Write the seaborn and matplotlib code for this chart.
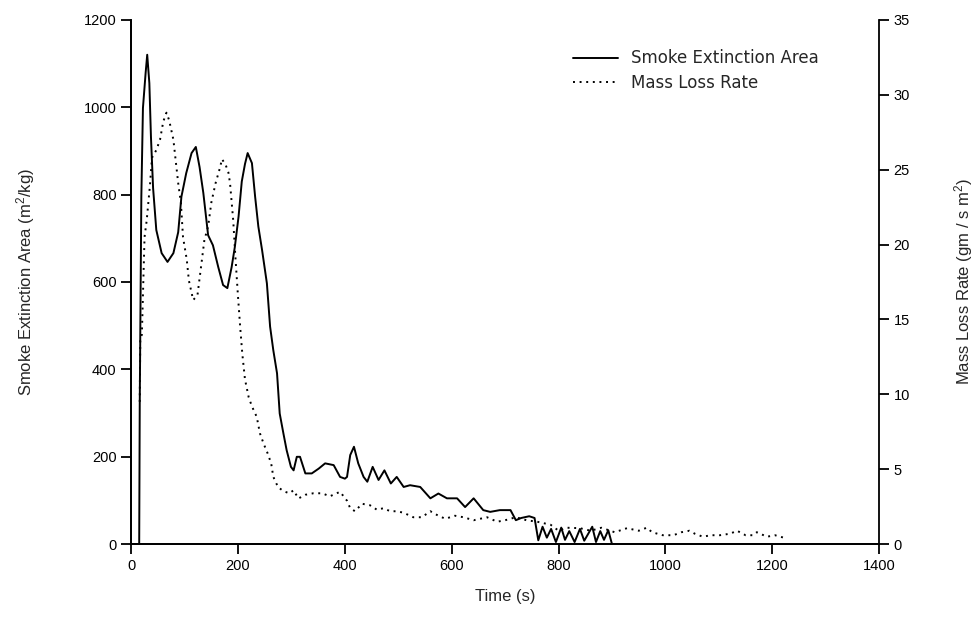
import matplotlib
matplotlib.use("Agg")
import matplotlib.pyplot as plt
import pandas as pd
import seaborn as sns

# Smoke extinction area (left axis, m2/kg)
sea_time = [0, 15, 16, 19, 22, 27, 30, 34, 37, 41, 47, 57, 68, 79, 88, 94, 103, 113, 121, 128,
            135, 144, 153, 163, 172, 180, 188, 194, 201, 207, 213, 218, 226, 232, 238, 245, 254,
            260, 266, 273, 278, 285, 291, 299, 304, 310, 316, 326, 338, 351, 363, 379, 391, 400,
            404, 410, 417, 425, 435, 442, 452, 463, 474, 486, 497, 510, 522, 541, 560, 575, 591,
            610, 625, 641, 659, 672, 690, 710, 720, 730, 745, 755, 762, 770, 778, 786, 795, 805,
            812, 820, 830, 840, 848, 856, 863, 870, 878, 885, 893, 900, 905]
sea_value = [0, 0, 318, 795, 998, 1078, 1120, 1055, 932, 815, 719, 666, 646, 666, 714, 795, 849,
             895, 909, 863, 804, 707, 684, 634, 593, 586, 634, 680, 750, 830, 870, 895, 872, 795,
             727, 673, 597, 498, 444, 391, 299, 253, 215, 177, 169, 200, 200, 162, 162, 173, 185,
             181, 154, 150, 154, 204, 223, 185, 154, 143, 177, 147, 169, 139, 154, 131, 135, 131,
             105, 116, 105, 105, 85, 105, 78, 74, 78, 78, 55, 60, 64, 60, 9, 40, 15, 35, 5, 38,
             10, 30, 5, 35, 8, 25, 40, 5, 30, 10, 32, 0, 0]

# Mass loss rate (right axis, gm / s m2)
mlr_time = [16, 17, 20, 25, 29, 35, 39, 47, 54, 60, 66, 71, 79, 83, 88, 93, 97, 104, 108, 116,
            124, 130, 137, 144, 150, 158, 166, 170, 177, 182, 185, 191, 195, 200, 204, 208, 213,
            220, 226, 235, 241, 248, 255, 262, 266, 275, 283, 288, 296, 304, 313, 326, 341, 357,
            372, 391, 404, 410, 419, 432, 447, 460, 472, 485, 497, 510, 528, 544, 560, 575, 588,
            606, 622, 641, 666, 685, 700, 720, 740, 760, 785, 800, 815, 840, 860, 880, 905, 928,
            950, 965, 975, 995, 1015, 1030, 1045, 1055, 1070, 1085, 1102, 1121, 1134, 1150, 1164,
            1171, 1190, 1205, 1225]
mlr_value = [9.5, 13.6, 14.0, 20.5, 21.6, 23.9, 25.8, 26.3, 27.0, 28.2, 28.8, 28.3, 27.0, 25.7,
             24.1, 22.8, 20.5, 19.0, 17.6, 16.3, 16.6, 18.3, 20.3, 21.2, 22.8, 24.1, 25.1, 25.7,
             25.3, 24.8, 24.1, 21.6, 19.2, 16.5, 14.5, 12.7, 11.0, 9.8, 9.2, 8.5, 7.4, 6.7, 6.1,
             5.4, 4.5, 3.8, 3.6, 3.5, 3.4, 3.6, 3.05, 3.3, 3.4, 3.4, 3.2, 3.5, 2.9, 2.4, 2.2, 2.7,
             2.6, 2.3, 2.4, 2.2, 2.2, 2.1, 1.8, 1.8, 2.2, 1.9, 1.7, 1.9, 1.8, 1.6, 1.8, 1.5, 1.6,
             1.8, 1.6, 1.5, 1.3, 0.9, 1.1, 1.07, 0.9, 1.1, 0.8, 1.07, 0.9, 1.1, 0.8, 0.6, 0.6, 0.8,
             0.9, 0.7, 0.5, 0.6, 0.6, 0.7, 0.9, 0.6, 0.6, 0.8, 0.5, 0.6, 0.4]

sea = pd.DataFrame({"time": sea_time, "value": sea_value})
mlr = pd.DataFrame({"time": mlr_time, "value": mlr_value})

sns.set_style("ticks")
plt.rcParams["font.family"] = ["Liberation Sans", "DejaVu Sans"]
plt.rcParams["mathtext.fontset"] = "custom"
plt.rcParams["mathtext.rm"] = "Liberation Sans"
plt.rcParams["mathtext.default"] = "regular"

fig, ax = plt.subplots(figsize=(9.79, 6.38), dpi=100)
fig.subplots_adjust(left=0.134, right=0.898, top=0.969, bottom=0.147)
ax2 = ax.twinx()

sns.lineplot(data=sea, x="time", y="value", ax=ax, color="black", lw=1.4,
             estimator=None, sort=False, label="Smoke Extinction Area", legend=False)
sns.lineplot(data=mlr, x="time", y="value", ax=ax2, color="black", lw=1.4,
             linestyle=(0, (1, 2.4)), estimator=None, sort=False,
             label="Mass Loss Rate", legend=False)

ax.set_xlim(0, 1400)
ax.set_ylim(0, 1200)
ax2.set_ylim(0, 35)
ax.set_xticks(range(0, 1401, 200))
ax.set_yticks(range(0, 1201, 200))
ax2.set_yticks(range(0, 36, 5))

for a in (ax, ax2):
    a.spines["top"].set_visible(False)
    for s in a.spines.values():
        s.set_linewidth(1.3)
        s.set_color("black")
    a.tick_params(direction="out", length=7, width=1.3, labelsize=10.5, colors="black")
ax.spines["right"].set_visible(False)

ax.set_xlabel("Time (s)", fontsize=12, labelpad=12)
ax.set_ylabel("Smoke Extinction Area (m$^2$/kg)", fontsize=12, labelpad=34)
ax2.set_ylabel("Mass Loss Rate (gm / s m$^2$)", fontsize=12, labelpad=30)

handles = ax.get_lines()[:1] + ax2.get_lines()[:1]
ax.legend(handles, ["Smoke Extinction Area", "Mass Loss Rate"], loc="upper left",
          bbox_to_anchor=(0.57, 0.972), frameon=False,
          prop={"family": "DejaVu Sans", "size": 12},
          handlelength=2.75, handletextpad=0.75, labelspacing=0.4)

plt.savefig("out.png", dpi=100)
